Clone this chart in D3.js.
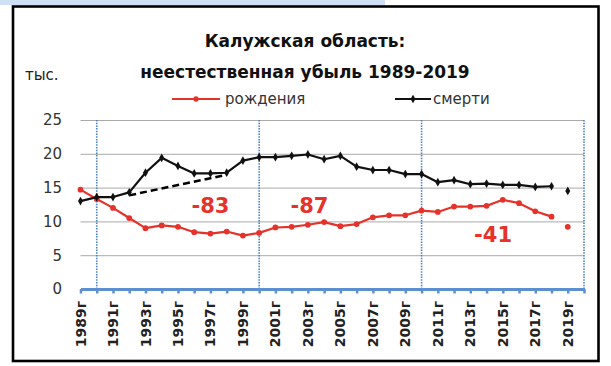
<!DOCTYPE html>
<html>
<head>
<meta charset="utf-8">
<script src="https://cdn.jsdelivr.net/npm/d3@7"></script>
<style>
  body { margin: 0; background: #fff; }
  svg { display: block; }
  text { font-family: "DejaVu Sans", sans-serif; }
</style>
</head>
<body>
<svg id="chart"></svg>
<script>
// data (thousands of people)
var years = [1989, 1990, 1991, 1992, 1993, 1994, 1995, 1996, 1997, 1998,
             1999, 2000, 2001, 2002, 2003, 2004, 2005, 2006, 2007, 2008,
             2009, 2010, 2011, 2012, 2013, 2014, 2015, 2016, 2017, 2018, 2019];
var births = [14.7, 13.3, 12.0, 10.5, 9.0, 9.4, 9.2, 8.4, 8.2, 8.5,
              7.9, 8.3, 9.1, 9.2, 9.5, 9.9, 9.3, 9.6, 10.6, 10.9,
              10.9, 11.6, 11.4, 12.2, 12.2, 12.3, 13.2, 12.7, 11.5, 10.7, 9.2];
var deaths = [13.0, 13.6, 13.6, 14.3, 17.2, 19.4, 18.2, 17.1, 17.1, 17.2,
              19.0, 19.5, 19.5, 19.7, 19.9, 19.2, 19.7, 18.1, 17.6, 17.6,
              17.0, 17.0, 15.8, 16.1, 15.5, 15.6, 15.4, 15.4, 15.1, 15.2, 14.5];
var detachedYear = 2019;            // last point is shown on its own
var trendYears = [1992, 1998];
var trendValues = [13.85, 16.9];
var yTicks = [0, 5, 10, 15, 20, 25];
var labelYears = [1989, 1991, 1993, 1995, 1997, 1999, 2001, 2003,
                  2005, 2007, 2009, 2011, 2013, 2015, 2017, 2019];
var decadeLines = [1990, 2000, 2010, 2020];
var notes = [ {text: "-83", year: 1997, value: 12.4},
              {text: "-87", year: 2003.1, value: 12.4},
              {text: "-41", year: 2014.4, value: 8.1} ];
var titleLines = ["Калужская область:", "неестественная убыль 1989-2019"];
var unitLabel = "тыс.";
var seriesNames = ["рождения", "смерти"];

var red = "#e5322b", black = "#111", blue = "#4f81bd";
var W = 611, H = 366;
var plot = {left: 80.5, right: 584, top: 120, bottom: 289};

var svg = d3.select("#chart").attr("width", W).attr("height", H);

// light strip on top and the frame
svg.append("rect").attr("x", 0).attr("y", 0).attr("width", 385).attr("height", 5)
  .attr("fill", "#cfe0f5");
svg.append("rect").attr("x", 13).attr("y", 6.5).attr("width", 585.5).attr("height", 354.5)
  .attr("fill", "#fff").attr("stroke", "#000").attr("stroke-width", 2.6);

var x = d3.scaleLinear().domain([1989, 2020]).range([plot.left, plot.right]);
var y = d3.scaleLinear().domain([0, 25]).range([plot.bottom, plot.top]);

// horizontal grid + y labels
var yAxis = d3.axisLeft(y).tickValues(yTicks)
  .tickSize(-(plot.right - plot.left)).tickPadding(18.5);
var gy = svg.append("g").attr("transform", "translate(" + plot.left + ",0)").call(yAxis);
gy.select(".domain").remove();
gy.selectAll("line").attr("stroke", "#aaa").attr("stroke-width", 1);
gy.selectAll("text").attr("font-size", 15).attr("fill", "#333")
  .attr("font-family", "DejaVu Sans");

// blue dotted dividers
svg.selectAll("line.decade").data(decadeLines).enter().append("line")
  .attr("class", "decade")
  .attr("x1", function (d) { return x(d); }).attr("x2", function (d) { return x(d); })
  .attr("y1", y(25)).attr("y2", y(0))
  .attr("stroke", blue).attr("stroke-width", 1.6).attr("stroke-dasharray", "1.5,1.2");

// x axis, blue with small ticks on every year
var gx = svg.append("g").attr("transform", "translate(0," + plot.bottom + ")")
  .call(d3.axisBottom(x).tickValues(years.concat([2020])).tickSize(4.5)
    .tickSizeOuter(0).tickFormat(""));
gx.select(".domain").attr("stroke", "#5b8fd0").attr("stroke-width", 3);
gx.selectAll(".tick line").attr("stroke", "#5b8fd0").attr("stroke-width", 2.5);

svg.selectAll("text.xlab").data(labelYears).enter().append("text")
  .attr("class", "xlab")
  .attr("transform", function (d) { return "translate(" + x(d) + ",301) rotate(-90)"; })
  .attr("dy", "0.36em").attr("text-anchor", "end")
  .attr("font-size", 14).attr("font-weight", "bold").attr("fill", "#222")
  .text(function (d) { return d + "г"; });

// trend dashes
svg.append("line")
  .attr("x1", x(trendYears[0])).attr("y1", y(trendValues[0]))
  .attr("x2", x(trendYears[1])).attr("y2", y(trendValues[1]))
  .attr("stroke", "#000").attr("stroke-width", 2.5).attr("stroke-dasharray", "7,4");

function drawSeries(values, color, marker) {
  var pts = years.map(function (yr, i) { return {year: yr, v: values[i]}; });
  var line = d3.line()
    .defined(function (d) { return d.year < detachedYear; })
    .x(function (d) { return x(d.year); })
    .y(function (d) { return y(d.v); });
  svg.append("path").datum(pts).attr("d", line)
    .attr("fill", "none").attr("stroke", color).attr("stroke-width", 2.2)
    .attr("stroke-linejoin", "round");
  svg.append("g").selectAll("path").data(pts).enter().append("path")
    .attr("transform", function (d) { return "translate(" + x(d.year) + "," + y(d.v) + ")"; })
    .attr("d", d3.symbol().type(marker).size(marker === d3.symbolCircle ? 26 : 22))
    .attr("fill", color);
}
drawSeries(births, red, d3.symbolCircle);
drawSeries(deaths, black, d3.symbolDiamond);

// red differences
svg.selectAll("text.note").data(notes).enter().append("text")
  .attr("class", "note")
  .attr("x", function (d) { return x(d.year); })
  .attr("y", function (d) { return y(d.value); })
  .attr("dy", "0.36em").attr("text-anchor", "middle")
  .attr("font-size", 21).attr("font-weight", "bold").attr("fill", red)
  .text(function (d) { return d.text; });

// titles
svg.selectAll("text.title").data(titleLines).enter().append("text")
  .attr("class", "title")
  .attr("x", 305).attr("y", function (d, i) { return 47 + i * 31; })
  .attr("text-anchor", "middle").attr("font-size", 17).attr("font-weight", "bold")
  .attr("fill", "#111").text(function (d) { return d; });
svg.append("text").attr("x", 25).attr("y", 80).attr("font-size", 15)
  .attr("fill", "#222").text(unitLabel);

// legend
var legend = [ {name: seriesNames[0], color: red, marker: d3.symbolCircle, x0: 172},
               {name: seriesNames[1], color: black, marker: d3.symbolDiamond, x0: 395} ];
var lg = svg.selectAll("g.legend").data(legend).enter().append("g")
  .attr("class", "legend")
  .attr("transform", function (d) { return "translate(" + d.x0 + ",99)"; });
lg.append("line").attr("x1", 0).attr("x2", function (d, i) { return i ? 36 : 48; })
  .attr("stroke", function (d) { return d.color; }).attr("stroke-width", 2.2);
lg.append("path")
  .attr("transform", function (d, i) { return "translate(" + (i ? 18 : 24) + ",0)"; })
  .attr("d", function (d) { return d3.symbol().type(d.marker).size(22)(); })
  .attr("fill", function (d) { return d.color; });
lg.append("text").attr("x", function (d, i) { return i ? 38 : 53; }).attr("dy", "0.36em")
  .attr("font-size", 15).attr("fill", "#333").text(function (d) { return d.name; });
</script>
</body>
</html>
